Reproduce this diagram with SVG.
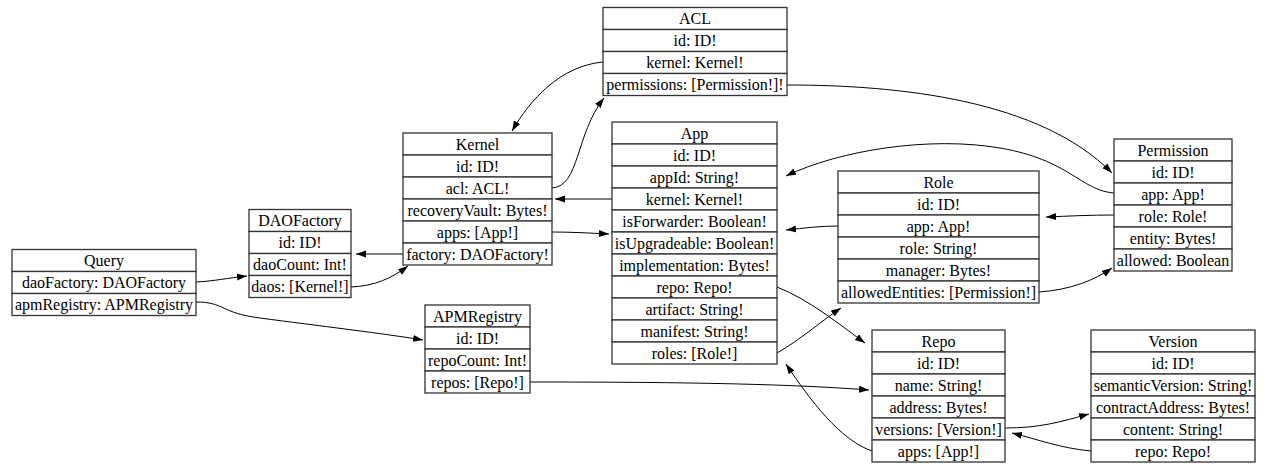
<svg xmlns="http://www.w3.org/2000/svg" width="1267" height="470" viewBox="0 0 1267 470">
<style>
.c{fill:#fff;stroke:#333;stroke-width:1.3}
.t{font-family:"Liberation Serif","Times New Roman",serif;font-size:16px;fill:#000;text-anchor:middle}
.e{fill:none;stroke:#000;stroke-width:1}
</style>
<defs>
<marker id="a" markerUnits="userSpaceOnUse" markerWidth="11" markerHeight="8" refX="10" refY="3.5" orient="auto"><path d="M0,0 L10,3.5 L0,7 z" fill="#000"/></marker>
</defs>
<rect width="1267" height="470" fill="#fff"/>
<g id="edges">
<path class="e" marker-end="url(#a)" d="M196,282 C215,281 228,278 247,276"/>
<path class="e" marker-end="url(#a)" d="M351,287 C375,286 392,278 408,266"/>
<path class="e" marker-end="url(#a)" d="M403,254 L356,254"/>
<path class="e" marker-end="url(#a)" d="M552,188 C580,186 575,135 604,98"/>
<path class="e" marker-end="url(#a)" d="M603,62 C560,66 530,100 512,131"/>
<path class="e" marker-end="url(#a)" d="M552,232 C570,232 590,233 609,234"/>
<path class="e" marker-end="url(#a)" d="M612,199 L555,199"/>
<path class="e" marker-end="url(#a)" d="M787,85 C900,85 1040,100 1112,173"/>
<path class="e" marker-end="url(#a)" d="M1114,193 C1080,190 1070,160 1000,148 C930,136 840,150 786,176"/>
<path class="e" marker-end="url(#a)" d="M1114,215 C1090,215 1070,216 1046,217"/>
<path class="e" marker-end="url(#a)" d="M838,226 C820,226 805,228 786,230"/>
<path class="e" marker-end="url(#a)" d="M1039,292 C1070,290 1095,280 1112,268"/>
<path class="e" marker-end="url(#a)" d="M777,287 C810,300 840,325 865,343"/>
<path class="e" marker-end="url(#a)" d="M777,353 C800,340 820,322 841,308"/>
<path class="e" marker-end="url(#a)" d="M872,451 C840,440 810,400 786,364"/>
<path class="e" marker-end="url(#a)" d="M530,382 C650,382 780,383 869,390"/>
<path class="e" marker-end="url(#a)" d="M196,302 C225,302 220,313 260,318 C320,326 380,333 423,340"/>
<path class="e" marker-end="url(#a)" d="M1005,428 C1040,428 1060,422 1089,414"/>
<path class="e" marker-end="url(#a)" d="M1091,451 C1060,448 1040,440 1012,433"/>
</g>
<g id="Query">
<rect class="c" x="12" y="249.5" width="184" height="22"/><text class="t" x="104" y="266">Query</text>
<rect class="c" x="12" y="271.5" width="184" height="22"/><text class="t" x="104" y="288">daoFactory: DAOFactory</text>
<rect class="c" x="12" y="293.5" width="184" height="22"/><text class="t" x="104" y="310">apmRegistry: APMRegistry</text>
</g>
<g id="DAOFactory">
<rect class="c" x="249" y="209.5" width="102" height="22"/><text class="t" x="300" y="226">DAOFactory</text>
<rect class="c" x="249" y="231.5" width="102" height="22"/><text class="t" x="300" y="248">id: ID!</text>
<rect class="c" x="249" y="253.5" width="102" height="22"/><text class="t" x="300" y="270">daoCount: Int!</text>
<rect class="c" x="249" y="275.5" width="102" height="22"/><text class="t" x="300" y="292">daos: [Kernel!]</text>
</g>
<g id="Kernel">
<rect class="c" x="403" y="133" width="149" height="22"/><text class="t" x="477.5" y="149.5">Kernel</text>
<rect class="c" x="403" y="155" width="149" height="22"/><text class="t" x="477.5" y="171.5">id: ID!</text>
<rect class="c" x="403" y="177" width="149" height="22"/><text class="t" x="477.5" y="193.5">acl: ACL!</text>
<rect class="c" x="403" y="199" width="149" height="22"/><text class="t" x="477.5" y="215.5">recoveryVault: Bytes!</text>
<rect class="c" x="403" y="221" width="149" height="22"/><text class="t" x="477.5" y="237.5">apps: [App!]</text>
<rect class="c" x="403" y="243" width="149" height="22"/><text class="t" x="477.5" y="259.5">factory: DAOFactory!</text>
</g>
<g id="ACL">
<rect class="c" x="603" y="7.5" width="184" height="22"/><text class="t" x="695" y="24">ACL</text>
<rect class="c" x="603" y="29.5" width="184" height="22"/><text class="t" x="695" y="46">id: ID!</text>
<rect class="c" x="603" y="51.5" width="184" height="22"/><text class="t" x="695" y="68">kernel: Kernel!</text>
<rect class="c" x="603" y="73.5" width="184" height="22"/><text class="t" x="695" y="90">permissions: [Permission!]!</text>
</g>
<g id="App">
<rect class="c" x="612" y="122" width="165" height="22"/><text class="t" x="694.5" y="138.5">App</text>
<rect class="c" x="612" y="144" width="165" height="22"/><text class="t" x="694.5" y="160.5">id: ID!</text>
<rect class="c" x="612" y="166" width="165" height="22"/><text class="t" x="694.5" y="182.5">appId: String!</text>
<rect class="c" x="612" y="188" width="165" height="22"/><text class="t" x="694.5" y="204.5">kernel: Kernel!</text>
<rect class="c" x="612" y="210" width="165" height="22"/><text class="t" x="694.5" y="226.5">isForwarder: Boolean!</text>
<rect class="c" x="612" y="232" width="165" height="22"/><text class="t" x="694.5" y="248.5">isUpgradeable: Boolean!</text>
<rect class="c" x="612" y="254" width="165" height="22"/><text class="t" x="694.5" y="270.5">implementation: Bytes!</text>
<rect class="c" x="612" y="276" width="165" height="22"/><text class="t" x="694.5" y="292.5">repo: Repo!</text>
<rect class="c" x="612" y="298" width="165" height="22"/><text class="t" x="694.5" y="314.5">artifact: String!</text>
<rect class="c" x="612" y="320" width="165" height="22"/><text class="t" x="694.5" y="336.5">manifest: String!</text>
<rect class="c" x="612" y="342" width="165" height="22"/><text class="t" x="694.5" y="358.5">roles: [Role!]</text>
</g>
<g id="Role">
<rect class="c" x="838" y="171" width="201" height="22"/><text class="t" x="938.5" y="187.5">Role</text>
<rect class="c" x="838" y="193" width="201" height="22"/><text class="t" x="938.5" y="209.5">id: ID!</text>
<rect class="c" x="838" y="215" width="201" height="22"/><text class="t" x="938.5" y="231.5">app: App!</text>
<rect class="c" x="838" y="237" width="201" height="22"/><text class="t" x="938.5" y="253.5">role: String!</text>
<rect class="c" x="838" y="259" width="201" height="22"/><text class="t" x="938.5" y="275.5">manager: Bytes!</text>
<rect class="c" x="838" y="281" width="201" height="22"/><text class="t" x="938.5" y="297.5">allowedEntities: [Permission!]</text>
</g>
<g id="Permission">
<rect class="c" x="1114" y="139" width="118" height="22"/><text class="t" x="1173" y="155.5">Permission</text>
<rect class="c" x="1114" y="161" width="118" height="22"/><text class="t" x="1173" y="177.5">id: ID!</text>
<rect class="c" x="1114" y="183" width="118" height="22"/><text class="t" x="1173" y="199.5">app: App!</text>
<rect class="c" x="1114" y="205" width="118" height="22"/><text class="t" x="1173" y="221.5">role: Role!</text>
<rect class="c" x="1114" y="227" width="118" height="22"/><text class="t" x="1173" y="243.5">entity: Bytes!</text>
<rect class="c" x="1114" y="249" width="118" height="22"/><text class="t" x="1173" y="265.5">allowed: Boolean</text>
</g>
<g id="APMRegistry">
<rect class="c" x="425" y="305" width="105" height="22"/><text class="t" x="477.5" y="321.5">APMRegistry</text>
<rect class="c" x="425" y="327" width="105" height="22"/><text class="t" x="477.5" y="343.5">id: ID!</text>
<rect class="c" x="425" y="349" width="105" height="22"/><text class="t" x="477.5" y="365.5">repoCount: Int!</text>
<rect class="c" x="425" y="371" width="105" height="22"/><text class="t" x="477.5" y="387.5">repos: [Repo!]</text>
</g>
<g id="Repo">
<rect class="c" x="872" y="330" width="133" height="22"/><text class="t" x="938.5" y="346.5">Repo</text>
<rect class="c" x="872" y="352" width="133" height="22"/><text class="t" x="938.5" y="368.5">id: ID!</text>
<rect class="c" x="872" y="374" width="133" height="22"/><text class="t" x="938.5" y="390.5">name: String!</text>
<rect class="c" x="872" y="396" width="133" height="22"/><text class="t" x="938.5" y="412.5">address: Bytes!</text>
<rect class="c" x="872" y="418" width="133" height="22"/><text class="t" x="938.5" y="434.5">versions: [Version!]</text>
<rect class="c" x="872" y="440" width="133" height="22"/><text class="t" x="938.5" y="456.5">apps: [App!]</text>
</g>
<g id="Version">
<rect class="c" x="1091" y="330" width="164" height="22"/><text class="t" x="1173" y="346.5">Version</text>
<rect class="c" x="1091" y="352" width="164" height="22"/><text class="t" x="1173" y="368.5">id: ID!</text>
<rect class="c" x="1091" y="374" width="164" height="22"/><text class="t" x="1173" y="390.5">semanticVersion: String!</text>
<rect class="c" x="1091" y="396" width="164" height="22"/><text class="t" x="1173" y="412.5">contractAddress: Bytes!</text>
<rect class="c" x="1091" y="418" width="164" height="22"/><text class="t" x="1173" y="434.5">content: String!</text>
<rect class="c" x="1091" y="440" width="164" height="22"/><text class="t" x="1173" y="456.5">repo: Repo!</text>
</g>
</svg>
